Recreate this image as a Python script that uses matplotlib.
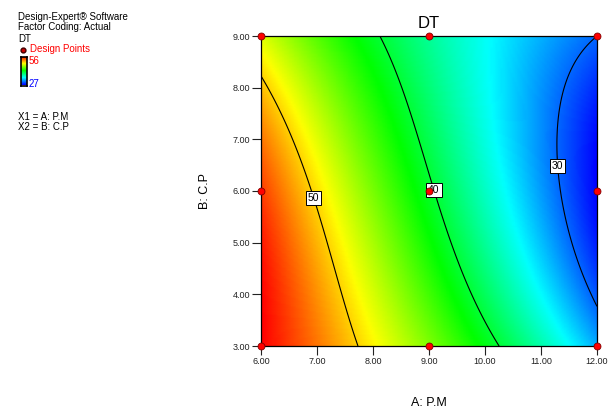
import numpy as np
import matplotlib

matplotlib.use("Agg")
import matplotlib.pyplot as plt
from matplotlib.colors import LinearSegmentedColormap
from matplotlib.ticker import FormatStrFormatter

plt.rcParams["font.family"] = ["Liberation Sans", "DejaVu Sans"]

# points (A: P.M, B: C.P)
c50_a = [6.00, 6.40, 6.88, 7.29, 7.74]
c50_b = [8.21, 7.44, 6.08, 4.60, 3.00]
c40_a = [8.14, 8.54, 9.05, 9.55, 10.24]
c40_b = [9.00, 7.83, 6.08, 4.60, 3.00]
c30_a = [11.95, 11.58, 11.37, 11.32, 11.40, 11.67, 12.00]
c30_b = [8.97, 8.47, 7.50, 6.53, 5.50, 4.60, 3.79]
levels = [30, 40, 50]

# extreme values read from the shading (corner red, right edge deep blue)
ext_a = [6.0, 12.0]
ext_b = [3.0, 6.3]
ext_z = [56.0, 27.0]

# contour label spots
label_a = [7.00, 9.14, 11.32]
label_b = [5.89, 6.04, 6.48]

# design points
design_a = [6, 6, 6, 9, 9, 9, 12, 12, 12]
design_b = [3, 6, 9, 3, 6, 9, 3, 6, 9]

resp_min, resp_max = 27, 56


def terms(a, b):
    u = (np.asarray(a, float) - 9.0) / 3.0
    v = (np.asarray(b, float) - 6.0) / 3.0
    return np.stack([np.ones_like(u), u, v, u * v, u ** 2, v ** 2,
                     u ** 3, u ** 2 * v, u * v ** 2, v ** 3], axis=-1)


# smooth response surface through the readings
pa = np.array(c30_a + c40_a + c50_a + ext_a)
pb = np.array(c30_b + c40_b + c50_b + ext_b)
pz = np.array([30] * len(c30_a) + [40] * len(c40_a) + [50] * len(c50_a) + ext_z, float)
coef, *_ = np.linalg.lstsq(terms(pa, pb), pz, rcond=None)

ga, gb = np.meshgrid(np.linspace(6, 12, 200), np.linspace(3, 9, 200))
gz = terms(ga, gb) @ coef

cmap = LinearSegmentedColormap.from_list(
    "de", ["#0000ff", "#00ffff", "#00ff00", "#ffff00", "#ff0000"]
)

fig = plt.figure(figsize=(6.11, 4.12), dpi=100)
ax = fig.add_axes([261 / 611, 1 - 346 / 412, 336 / 611, 310 / 412])

ax.pcolormesh(ga, gb, gz, cmap=cmap, vmin=resp_min, vmax=resp_max, shading="gouraud")
cs = ax.contour(ga, gb, gz, levels=levels, colors="black", linewidths=0.8)
labels = ax.clabel(cs, fmt="%d", inline=False, fontsize=7.5,
                   manual=list(zip(label_a, label_b)))
for t in labels:
    t.set_rotation(0)
    t.set_bbox(dict(facecolor="white", edgecolor="black", pad=1.4, linewidth=0.7))
    t.set_zorder(5)

ax.plot(design_a, design_b, "o", color="#ff0000", markeredgecolor="#800000",
        markersize=5, markeredgewidth=0.6, clip_on=False, zorder=6)

ax.set_xlim(6, 12)
ax.set_ylim(3, 9)
ax.set_xticks(np.arange(6, 12.01, 1))
ax.set_yticks(np.arange(3, 9.01, 1))
ax.xaxis.set_major_formatter(FormatStrFormatter("%.2f"))
ax.yaxis.set_major_formatter(FormatStrFormatter("%.2f"))
ax.tick_params(direction="out", length=6.5, width=0.8, labelsize=6.5,
               colors="#222222", pad=1.5)
for s in ax.spines.values():
    s.set_linewidth(0.9)

ax.set_title("DT", fontsize=12, pad=6)
ax.set_xlabel("A: P.M", fontsize=9)
ax.xaxis.set_label_coords(0.5, -0.165)
ax.set_ylabel("B: C.P", fontsize=9, labelpad=15)

# Design-Expert header block
fig.text(18 / 611, 1 - 16.5 / 412, "Design-Expert® Software", fontsize=7, va="center")
fig.text(18 / 611, 1 - 27.5 / 412, "Factor Coding: Actual", fontsize=7, va="center")
fig.text(18 / 611, 1 - 38.5 / 412, "DT", fontsize=7, va="center")
fig.text(30 / 611, 1 - 49.5 / 412, "Design Points", fontsize=7, va="center", color="red")
fig.lines.append(plt.Line2D([22.5 / 611], [1 - 49.5 / 412], marker="o", color="#cc0000",
                            markeredgecolor="#400000", markersize=3.5,
                            transform=fig.transFigure))
cax = fig.add_axes([20.5 / 611, 1 - 85.5 / 412, 6 / 611, 29 / 412])
cax.imshow(np.linspace(1, 0, 50)[:, None], aspect="auto", cmap=cmap)
cax.set_xticks([])
cax.set_yticks([])
for s in cax.spines.values():
    s.set_linewidth(1.2)
fig.text(29 / 611, 1 - 61 / 412, str(resp_max), fontsize=7, va="center", color="red")
fig.text(29 / 611, 1 - 84 / 412, str(resp_min), fontsize=7, va="center", color="blue")
fig.text(18 / 611, 1 - 117 / 412, "X1 = A: P.M", fontsize=7, va="center")
fig.text(18 / 611, 1 - 127 / 412, "X2 = B: C.P", fontsize=7, va="center")

fig.savefig("out.png", dpi=100)
